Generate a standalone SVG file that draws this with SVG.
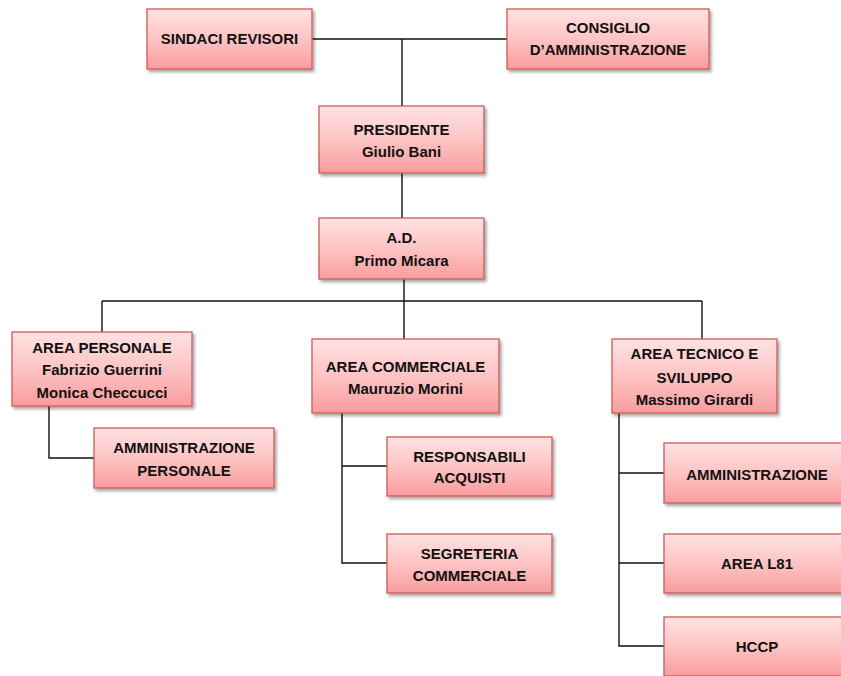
<svg xmlns="http://www.w3.org/2000/svg" width="841" height="676" viewBox="0 0 841 676">
<defs>
<linearGradient id="g" x1="0" y1="0" x2="0" y2="1">
<stop offset="0" stop-color="#FFE2E2"/>
<stop offset="0.5" stop-color="#FDC4C4"/>
<stop offset="1" stop-color="#F99C9C"/>
</linearGradient>
<filter id="sh" x="-10%" y="-10%" width="125%" height="130%">
<feDropShadow dx="2" dy="2.5" stdDeviation="1.5" flood-color="#000" flood-opacity="0.35"/>
</filter>
</defs>
<style>
.box{fill:url(#g);stroke:#D05A58;stroke-width:1.3;filter:url(#sh)}
.t{font-family:"Liberation Sans",Arial,sans-serif;font-weight:bold;font-size:15px;fill:#111;text-anchor:middle}
.c{fill:none;stroke:#111;stroke-width:1.4}
</style>
<g id="connectors">
<path class="c" d="M312 39H507M402 39V106M402 173V218M404 279V339M102 301H702M102 301V332M702 301V339M49 406V458H94M342 413V563H387M342 466H387M619 413V646H664M619 473H664M619 563H664"/>
</g>
<g id="sindaci"><rect class="box" x="147" y="9" width="165" height="60"/><text class="t" x="229.5" y="44">SINDACI REVISORI</text></g>
<g id="consiglio"><rect class="box" x="507" y="9" width="202" height="60"/><text class="t" x="608" y="33">CONSIGLIO</text><text class="t" x="608" y="55">D’AMMINISTRAZIONE</text></g>
<g id="presidente"><rect class="box" x="319" y="106" width="165" height="67"/><text class="t" x="401.5" y="135">PRESIDENTE</text><text class="t" x="401.5" y="157">Giulio Bani</text></g>
<g id="ad"><rect class="box" x="319" y="218" width="165" height="61"/><text class="t" x="401.5" y="243">A.D.</text><text class="t" x="401.5" y="266">Primo Micara</text></g>
<g id="area-personale"><rect class="box" x="12" y="332" width="180" height="74"/><text class="t" x="102" y="353">AREA PERSONALE</text><text class="t" x="102" y="375">Fabrizio Guerrini</text><text class="t" x="102" y="398">Monica Checcucci</text></g>
<g id="amm-personale"><rect class="box" x="94" y="428" width="180" height="60"/><text class="t" x="184" y="453">AMMINISTRAZIONE</text><text class="t" x="184" y="476">PERSONALE</text></g>
<g id="area-commerciale"><rect class="box" x="312" y="339" width="187" height="74"/><text class="t" x="405.5" y="372">AREA COMMERCIALE</text><text class="t" x="405.5" y="394">Mauruzio Morini</text></g>
<g id="responsabili"><rect class="box" x="387" y="437" width="165" height="59"/><text class="t" x="469.5" y="462">RESPONSABILI</text><text class="t" x="469.5" y="483">ACQUISTI</text></g>
<g id="segreteria"><rect class="box" x="387" y="534" width="165" height="59"/><text class="t" x="469.5" y="559">SEGRETERIA</text><text class="t" x="469.5" y="581">COMMERCIALE</text></g>
<g id="area-tecnico"><rect class="box" x="612" y="339" width="165" height="74"/><text class="t" x="694.5" y="359">AREA TECNICO E</text><text class="t" x="694.5" y="383">SVILUPPO</text><text class="t" x="694.5" y="405">Massimo Girardi</text></g>
<g id="amministrazione"><rect class="box" x="664" y="443" width="186" height="60"/><text class="t" x="757" y="480">AMMINISTRAZIONE</text></g>
<g id="area-l81"><rect class="box" x="664" y="534" width="186" height="59"/><text class="t" x="757" y="569">AREA L81</text></g>
<g id="hccp"><rect class="box" x="664" y="617" width="186" height="59"/><text class="t" x="757" y="652">HCCP</text></g>
</svg>
